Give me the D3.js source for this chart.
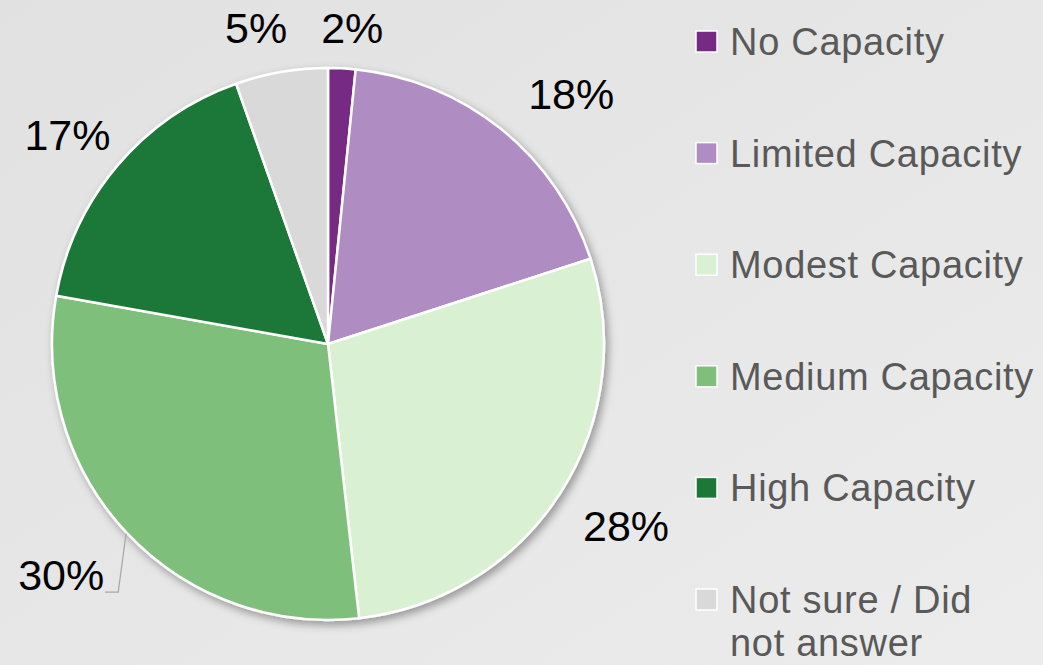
<!DOCTYPE html>
<html>
<head>
<meta charset="utf-8">
<script src="https://cdn.jsdelivr.net/npm/d3@7"></script>
<style>
  html, body { margin: 0; padding: 0; overflow: hidden; }
  svg { display: block; }
</style>
</head>
<body>
<svg id="chart" width="1043" height="665"></svg>
<script>
// ---- data ----
const categories = ["No Capacity", "Limited Capacity", "Modest Capacity", "Medium Capacity", "High Capacity", "Not sure / Did not answer"];
const legendLines = [["No Capacity"], ["Limited Capacity"], ["Modest Capacity"], ["Medium Capacity"], ["High Capacity"], ["Not sure / Did", "not answer"]];
const values = [1.6, 18.4, 28.2, 29.6, 16.8, 5.4];
const labels = ["2%", "18%", "28%", "30%", "17%", "5%"];
const colors = ["#762a83", "#af8dc3", "#d9f0d3", "#7fbf7b", "#1b7837", "#d9d9d9"];

// ---- layout (not data) ----
const W = 1043, H = 665;
const cx = 328, cy = 344, R = 276;
const labelRadius = [317, 349, 349, 353, 334, 324];
const labelAngleShift = [1.5, 5.3, -1.4, 2.3, -1.6, -3.1]; // degrees
const leaderFor = [false, false, false, true, false, false];

const svg = d3.select("#chart");
const defs = svg.append("defs");
const grad = defs.append("linearGradient").attr("id", "bg").attr("x1", "0").attr("y1", "0").attr("x2", "1").attr("y2", "1");
grad.append("stop").attr("offset", "0%").attr("stop-color", "#e1e1e1");
grad.append("stop").attr("offset", "100%").attr("stop-color", "#ececec");
const f = defs.append("filter").attr("id", "shadow").attr("x", "-20%").attr("y", "-20%").attr("width", "140%").attr("height", "140%");
f.append("feDropShadow").attr("dx", 3).attr("dy", 4).attr("stdDeviation", 4)
  .attr("flood-color", "#000").attr("flood-opacity", 0.35);

svg.append("rect").attr("width", W).attr("height", H).attr("fill", "url(#bg)");

const pie = d3.pie().sort(null).value(d => d);
const arcs = pie(values);
const arc = d3.arc().innerRadius(0).outerRadius(R);

const g = svg.append("g").attr("transform", `translate(${cx},${cy})`);
g.append("g").attr("filter", "url(#shadow)")
  .selectAll("path").data(arcs).join("path")
  .attr("d", arc)
  .attr("fill", (d, i) => colors[i])
  .attr("stroke", "#ffffff")
  .attr("stroke-width", 2.5)
  .attr("stroke-linejoin", "round");

// labels
const fontFamily = "'Liberation Sans', Arial, sans-serif";
arcs.forEach((d, i) => {
  const mid = (d.startAngle + d.endAngle) / 2;
  const a = mid + labelAngleShift[i] * Math.PI / 180;
  const x = labelRadius[i] * Math.sin(a);
  const y = -labelRadius[i] * Math.cos(a);
  const t = g.append("text")
    .attr("x", x).attr("y", y).attr("dy", "0.35em")
    .attr("text-anchor", "middle")
    .attr("font-family", fontFamily)
    .attr("font-size", 43)
    .attr("fill", "#000")
    .text(labels[i]);
  if (leaderFor[i]) {
    const bb = t.node().getBBox();
    const sx = (R + 1) * Math.sin(mid), sy = -(R + 1) * Math.cos(mid);
    const ex = bb.x + bb.width + 1;
    const ey = y + 17;
    g.append("polyline")
      .attr("points", [[sx, sy], [ex + 13, ey], [ex, ey]].map(p => p.join(",")).join(" "))
      .attr("fill", "none")
      .attr("stroke", "#a6a6a6")
      .attr("stroke-width", 1.2);
  }
});

// legend
const ly = d3.scaleLinear().domain([0, categories.length - 1]).range([55, 613]);
const legend = svg.append("g");
categories.forEach((c, i) => {
  const base = ly(i);
  legend.append("rect")
    .attr("x", 696).attr("y", base - 24)
    .attr("width", 21).attr("height", 21)
    .attr("fill", colors[i])
    .attr("stroke", "#ffffff").attr("stroke-width", 1.5);
  const t = legend.append("text")
    .attr("x", 730).attr("y", base)
    .attr("font-family", fontFamily)
    .attr("font-size", 38)
    .attr("letter-spacing", 0.7)
    .attr("fill", "#595959");
  legendLines[i].forEach((line, j) => {
    t.append("tspan").attr("x", 730).attr("y", base + j * 43).text(line);
  });
});
</script>
</body>
</html>
